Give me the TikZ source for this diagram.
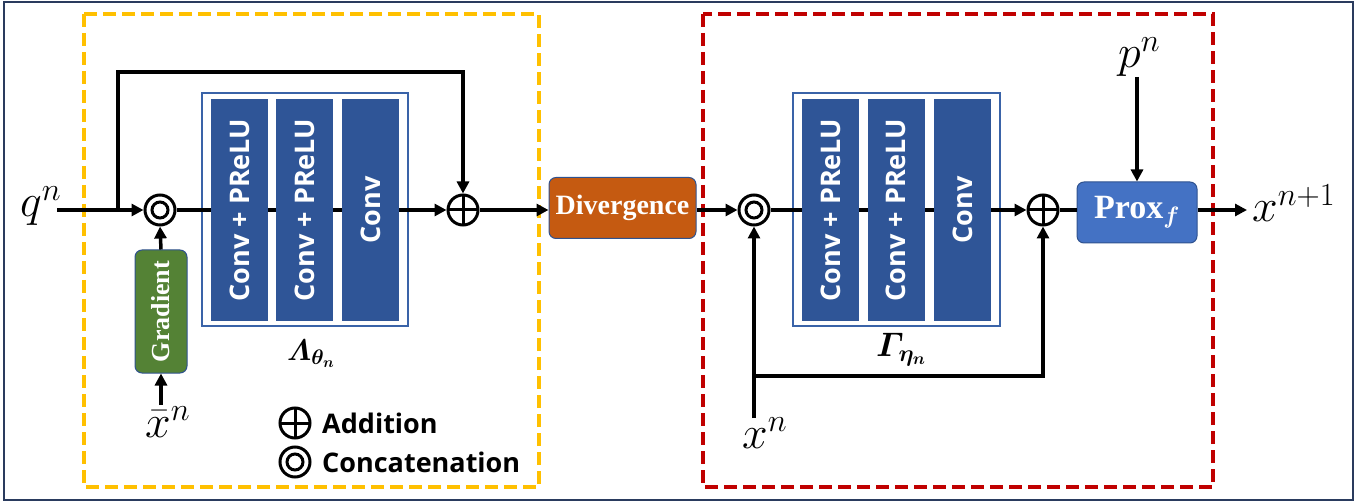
\RequirePackage{fix-cm}
\documentclass[tikz,border=0pt]{standalone}
\usepackage{amsmath}
\usepackage{fontspec}
\newfontfamily\blocksans{Open Sans}
\newfontfamily\boxserif{Liberation Serif}
\usetikzlibrary{arrows.meta}

% bold italic math letters, scalable to any size
\DeclareFontFamily{OML}{bcmm}{\skewchar\font127}
\DeclareFontShape{OML}{bcmm}{m}{it}{<->cmmib10}{}
\DeclareMathAlphabet{\mathbit}{OML}{bcmm}{m}{it}
\DeclareSymbolFont{bldletters}{OML}{bcmm}{m}{it}
\DeclareMathSymbol{\bldtheta}{\mathord}{bldletters}{"12}
\DeclareMathSymbol{\bldeta}{\mathord}{bldletters}{"11}

\definecolor{convblue}{HTML}{2F5597}
\definecolor{frameblue}{HTML}{3A63A8}
\definecolor{divorange}{HTML}{C55A11}
\definecolor{gradgreen}{HTML}{548235}
\definecolor{proxblue}{HTML}{4472C4}
\definecolor{proxedge}{HTML}{2F528F}
\definecolor{dashyellow}{HTML}{FFC000}
\definecolor{dashred}{HTML}{C00000}
\definecolor{bordernavy}{HTML}{2A3B5E}

\tikzset{
  conn/.style={line width=3.5pt},
  arr/.style={conn, -{Triangle[length=12pt,width=12pt]}},
  layer/.style={fill=convblue, minimum width=57pt, minimum height=222pt,
    inner sep=0pt, text=white, font=\blocksans\bfseries\fontsize{27}{31}\selectfont},
  blockframe/.style={draw=frameblue, line width=1.5pt, fill=white, inner sep=0pt},
  opnode/.style={circle, draw, line width=3pt, minimum size=30pt, inner sep=0pt, fill=white},
  addnode/.style={opnode, path picture={
      \draw[line width=3pt] (path picture bounding box.north) -- (path picture bounding box.south)
        (path picture bounding box.west) -- (path picture bounding box.east);}},
  catnode/.style={opnode, path picture={
      \draw[line width=3pt] (path picture bounding box.center) circle[radius=8pt];}},
  serifbox/.style={rounded corners=7pt, line width=1pt, inner sep=0pt, text=white,
    font=\boxserif\bfseries\fontsize{28}{32}\selectfont},
  mathlabel/.style={inner sep=0pt, font=\fontsize{46}{52}\selectfont},
  blocklabel/.style={inner sep=0pt, anchor=base west},
  legendtext/.style={inner sep=0pt, font=\blocksans\bfseries\fontsize{27}{31}\selectfont},
  yellowdash/.style={draw=dashyellow, line width=4pt, dash pattern=on 13pt off 6pt},
  reddash/.style={draw=dashred, line width=4pt, dash pattern=on 13pt off 6pt},
}

\begin{document}
\begin{tikzpicture}[x=1pt, y=-1pt]
\useasboundingbox (0,0) rectangle (1367,502);

% outer frame and the two dashed stages
\draw[bordernavy, line width=2pt] (4,2) rectangle (1353,500);
\draw[yellowdash] (84,14) rectangle (539,487);
\draw[reddash] (703,14) rectangle (1213,487);

% operators
\node[catnode] (cat1) at (160,210) {};
\node[addnode] (add1) at (463,210) {};
\node[catnode] (cat2) at (754,210) {};
\node[addnode] (add2) at (1043,210) {};

% block frames
\node[blockframe, minimum width=206pt, minimum height=233pt] (lamframe) at (305,209.5) {};
\node[blockframe, minimum width=207pt, minimum height=233pt] (gamframe) at (896.5,209.5) {};

% side boxes
\node[serifbox, draw=proxedge, fill=gradgreen, minimum width=52pt, minimum height=123pt,
      font=\boxserif\bfseries\fontsize{26}{30}\selectfont] (grad) at (161,311.5) {\rotatebox{90}{Gradient}};
\node[serifbox, draw=proxedge, fill=divorange, minimum width=147pt, minimum height=61pt] (div) at (622.5,208) {Divergence};
\node[serifbox, draw=proxedge, fill=proxblue, minimum width=120pt, minimum height=61pt,
      font=\boxserif\bfseries\fontsize{34}{38}\selectfont] (prox) at (1137,212.5) {Prox$_{\mathbit{f}}$};

% free ends
\coordinate (qin) at (57,210);
\coordinate (qsplit) at (118,210);
\coordinate (skiptop) at (118,72);
\coordinate (xbin) at (161,405);
\coordinate (xin) at (754,418);
\coordinate (xsplit) at (754,376);
\coordinate (pin) at (1137,77);
\coordinate (xout) at (1247,210);

% main signal path (runs behind the conv layers)
\draw[arr] (cat1.east) -- (add1.west);
\draw[arr] (cat2.east) -- (add2.west);

% conv layers
\node[layer] (l1) at (239.5,210) {\rotatebox{90}{Conv + PReLU}};
\node[layer] (l2) at (304.5,210) {\rotatebox{90}{Conv + PReLU}};
\node[layer] (l3) at (370.5,210) {\rotatebox{90}{Conv}};
\node[layer] (g1) at (830.5,210) {\rotatebox{90}{Conv + PReLU}};
\node[layer] (g2) at (896,210) {\rotatebox{90}{Conv + PReLU}};
\node[layer] (g3) at (962.5,210) {\rotatebox{90}{Conv}};

% connectors
\draw[arr] (qin) -- (cat1.west);
\draw[arr] (qsplit) -- (skiptop) -| (add1.north);
\draw[arr] (grad.north) -- (cat1.south);
\draw[arr] (xbin) -- (grad.south);
\draw[arr] (add1.east) -- (add1.east -| div.west);
\draw[arr] (div.east |- cat2) -- (cat2.west);
\draw[arr] (xin) -- (cat2.south);
\draw[arr] (xsplit) -| (add2.south);
\draw[conn] (add2.east) -- (add2.east -| prox.west);
\draw[arr] (pin) -- (prox.north);
\draw[arr] (prox.east |- add2) -- (xout);

% variable labels
\node[mathlabel, anchor=base west] (qn) at (20,217) {$q^n$};
\node[mathlabel, anchor=base west] (xbar) at (145,437) {$\bar{x}^n$};
\node[mathlabel, anchor=base west] (xn) at (742,448) {$x^n$};
\node[mathlabel, anchor=base west] (pn) at (1118,68) {$p^n$};
\node[mathlabel, anchor=base west] (xnext) at (1252,222) {$x^{n+1}$};
\node[blocklabel, font=\fontsize{30}{34}\selectfont] (lamlab) at (287,360) {$\mathbit{\Lambda}_{\bldtheta_{\mathbit{n}}}$};
\node[blocklabel, font=\fontsize{34}{38}\selectfont] (gamlab) at (876,356) {$\mathbit{\Gamma}_{\bldeta_{\mathbit{n}}}$};

% legend
\node[addnode] (legadd) at (295,423) {};
\node[catnode] (legcat) at (295,462) {};
\node[legendtext, anchor=base west] (legaddtext) at (322,433) {Addition};
\node[legendtext, anchor=base west] (legcattext) at (322,472) {Concatenation};
\end{tikzpicture}
\end{document}
